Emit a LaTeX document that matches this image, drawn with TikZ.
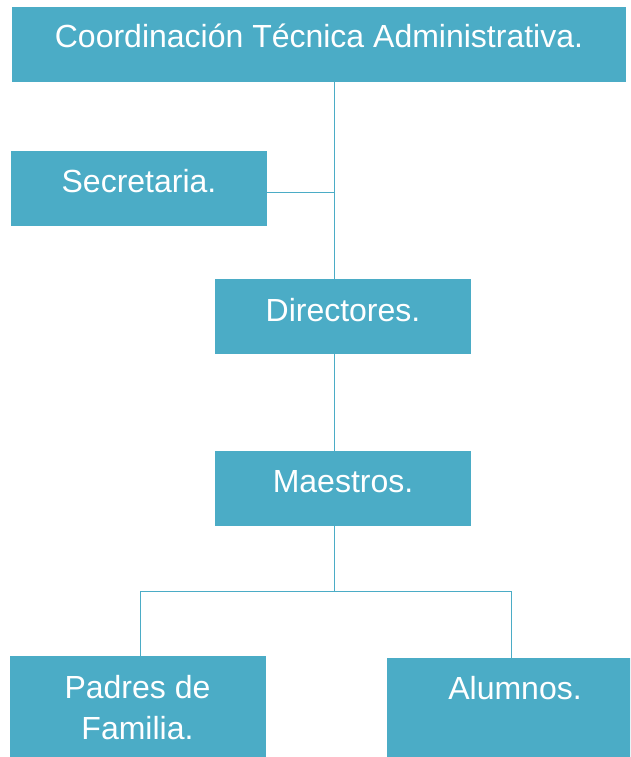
\documentclass[tikz,border=0pt]{standalone}
\usepackage{fontspec}
\setmainfont{Liberation Sans}
\definecolor{boxblue}{HTML}{4BACC6}
\begin{document}
\begin{tikzpicture}[x=1pt, y=-1pt]
\tikzstyle{b} = [fill=boxblue, text=white, anchor=base, inner xsep=0pt, inner ysep=0pt,
  font=\fontsize{32}{41}\selectfont, text height=41pt, text depth=34pt, minimum width=256pt]
\tikzstyle{e} = [draw=boxblue, line width=1pt]

\useasboundingbox[fill=white] (0,0) rectangle (630,757);
\clip (0,0) rectangle (630,757);

\node[b, minimum width=614pt] (coord) at (319, 48) {Coordinación Técnica Administrativa.};
\node[b] (sec) at (139, 192) {Secretaria.};
\node[b, text height=42pt, text depth=33pt] (dir) at (343, 321) {Directores.};
\node[b] (mae) at (343, 492) {Maestros.};
\node[b, align=center, text height=83pt, text depth=40pt] (pad) at (137.5, 739) {Padres de\\Familia.};
\node[b, text depth=70pt] (alu) at (515, 699) {Alumnos.};

\coordinate (spine) at (334, 0);
\coordinate (bar) at (0, 591);

\draw[e] (spine |- coord.south) -- (spine |- dir.north);
\draw[e] ([yshift=-3.5pt]sec.east) -- ([yshift=-3.5pt]sec.east -| spine);
\draw[e] (spine |- dir.south) -- (spine |- mae.north);
\draw[e] (spine |- mae.south) -- (spine |- bar);
\draw[e] ([xshift=2.5pt]pad.north) -- ([xshift=2.5pt]pad.north |- bar)
  -- ([xshift=-4pt]alu.north |- bar) -- ([xshift=-4pt]alu.north);
\end{tikzpicture}
\end{document}
